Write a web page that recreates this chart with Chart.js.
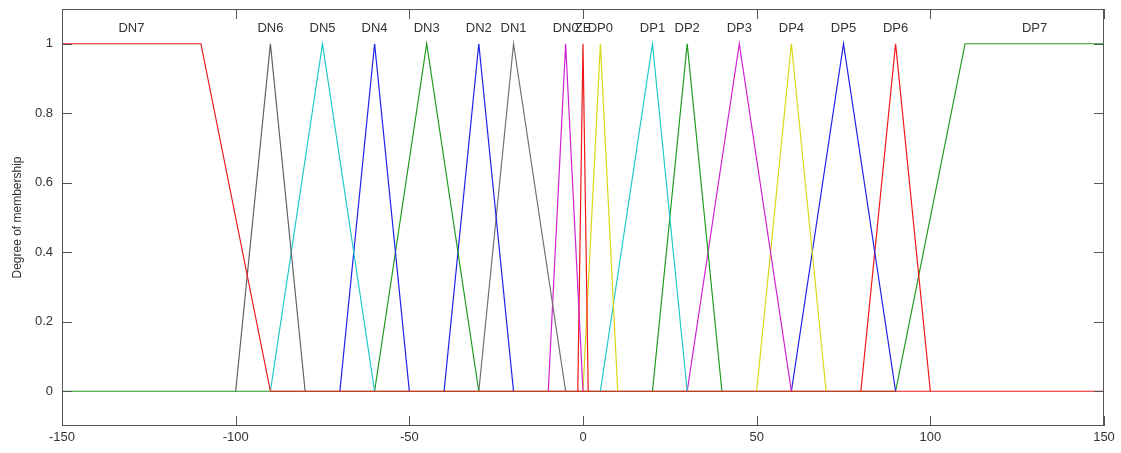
<!DOCTYPE html>
<html>
<head>
<meta charset="utf-8">
<script src="https://cdn.jsdelivr.net/npm/chart.js@4"></script>
<style>
  html, body { margin: 0; padding: 0; background: #fff; }
  #wrap { width: 1121px; height: 453px; }
</style>
</head>
<body>
<div id="wrap"><canvas id="mf"></canvas></div>
<script>
// membership function sets (x in error units)
const setNames  = ["DN7", "DN6", "DN5", "DN4", "DN3", "DN2", "DN1", "DN0", "ZE", "DP0", "DP1", "DP2", "DP3", "DP4", "DP5", "DP6", "DP7"];
// trapezoid corners a, b, c, d (triangles have b == c)
const cornerA   = [-150, -100, -90, -70, -60, -40, -30, -10, -1.5,  0,  5, 20, 30, 50, 60,  80,  90];
const cornerB   = [-150,  -90, -75, -60, -45, -30, -20,  -5,    0,  5, 20, 30, 45, 60, 75,  90, 110];
const cornerC   = [-110,  -90, -75, -60, -45, -30, -20,  -5,    0,  5, 20, 30, 45, 60, 75,  90, 150];
const cornerD   = [ -90,  -80, -60, -50, -30, -20,  -5,   0,  1.5, 10, 30, 40, 60, 70, 90, 100, 150];
const xTicks    = [-150, -100, -50, 0, 50, 100, 150];
const yTicks    = [0, 0.2, 0.4, 0.6, 0.8, 1];

const lineColors = ["#f01818", "#606060", "#20c8c8", "#2020e8", "#209a20", "#2020e8", "#707070", "#d020d0",
                    "#f01818", "#d8d818", "#20c8c8", "#209a20", "#d020d0", "#d8d818", "#2020e8", "#f01818", "#209a20"];

const lastSet = setNames.length - 1;

function setPoints(i) {
  const pts = [];
  // only the outer shoulders run along zero to the plot edge
  if (i === lastSet) pts.push({x: -150, y: 0});
  pts.push({x: cornerA[i], y: cornerA[i] === cornerB[i] ? 1 : 0});
  if (cornerA[i] !== cornerB[i]) pts.push({x: cornerB[i], y: 1});
  if (cornerC[i] !== cornerB[i]) pts.push({x: cornerC[i], y: 1});
  if (cornerD[i] !== cornerC[i]) pts.push({x: cornerD[i], y: 0});
  if (i === 0) pts.push({x: 150, y: 0});
  return pts;
}

const datasets = setNames.map((name, i) => ({
  label: name,
  data: setPoints(i),
  borderColor: lineColors[i],
  borderWidth: 1.2,
  pointRadius: 0,
  showLine: true,
  tension: 0,
  fill: false
}));

const fontFamily = "'Liberation Sans', Arial, sans-serif";

// box, inward ticks and set names
const matlabBox = {
  id: "matlabBox",
  afterDatasetsDraw(chart) {
    const {ctx, chartArea: {left, right, top, bottom}, scales: {x, y}} = chart;
    ctx.save();
    ctx.strokeStyle = "#555";
    ctx.lineWidth = 1;
    ctx.strokeRect(left + 0.5, top + 0.5, right - left - 1, bottom - top - 1);
    ctx.beginPath();
    xTicks.forEach(v => {
      const px = Math.round(x.getPixelForValue(v)) + 0.5;
      ctx.moveTo(px, bottom); ctx.lineTo(px, bottom - 10);
      ctx.moveTo(px, top); ctx.lineTo(px, top + 10);
    });
    yTicks.forEach(v => {
      const py = Math.round(y.getPixelForValue(v)) + 0.5;
      ctx.moveTo(left, py); ctx.lineTo(left + 10, py);
      ctx.moveTo(right, py); ctx.lineTo(right - 10, py);
    });
    ctx.stroke();

    ctx.font = "13px " + fontFamily;
    ctx.fillStyle = "#333";
    ctx.textAlign = "center";
    ctx.textBaseline = "middle";
    setNames.forEach((name, i) => {
      const cx = (cornerB[i] + cornerC[i]) / 2;
      ctx.fillText(name, x.getPixelForValue(cx), y.getPixelForValue(1.05) + 2);
    });
    ctx.restore();
  }
};

new Chart(document.getElementById("mf"), {
  type: "scatter",
  data: { datasets },
  options: {
    responsive: true,
    maintainAspectRatio: false,
    animation: false,
    layout: { padding: { top: 9, right: 17, left: 0, bottom: 0 } },
    plugins: { legend: { display: false }, tooltip: { enabled: false } },
    scales: {
      x: {
        type: "linear",
        min: -150,
        max: 150,
        afterBuildTicks: s => { s.ticks = xTicks.map(v => ({value: v})); },
        afterFit: s => { s.height = 27; s.paddingLeft = 0; s.paddingRight = 0; },
        grid: { display: false, drawTicks: false },
        border: { display: false },
        ticks: { color: "#333", font: { family: fontFamily, size: 13 }, padding: 4, maxRotation: 0 }
      },
      y: {
        min: -0.1,
        max: 1.1,
        afterBuildTicks: s => { s.ticks = yTicks.map(v => ({value: v})); },
        afterFit: s => { s.width = 62; s.paddingTop = 0; s.paddingBottom = 0; },
        grid: { display: false, drawTicks: false },
        border: { display: false },
        ticks: {
          color: "#333",
          font: { family: fontFamily, size: 13 },
          padding: 9,
          callback: v => String(Number(v.toFixed(1)))
        },
        title: {
          display: true,
          text: "Degree of membership",
          color: "#333",
          font: { family: fontFamily, size: 12 },
          padding: { top: 10, bottom: 0 }
        }
      }
    }
  },
  plugins: [matlabBox]
});
</script>
</body>
</html>
